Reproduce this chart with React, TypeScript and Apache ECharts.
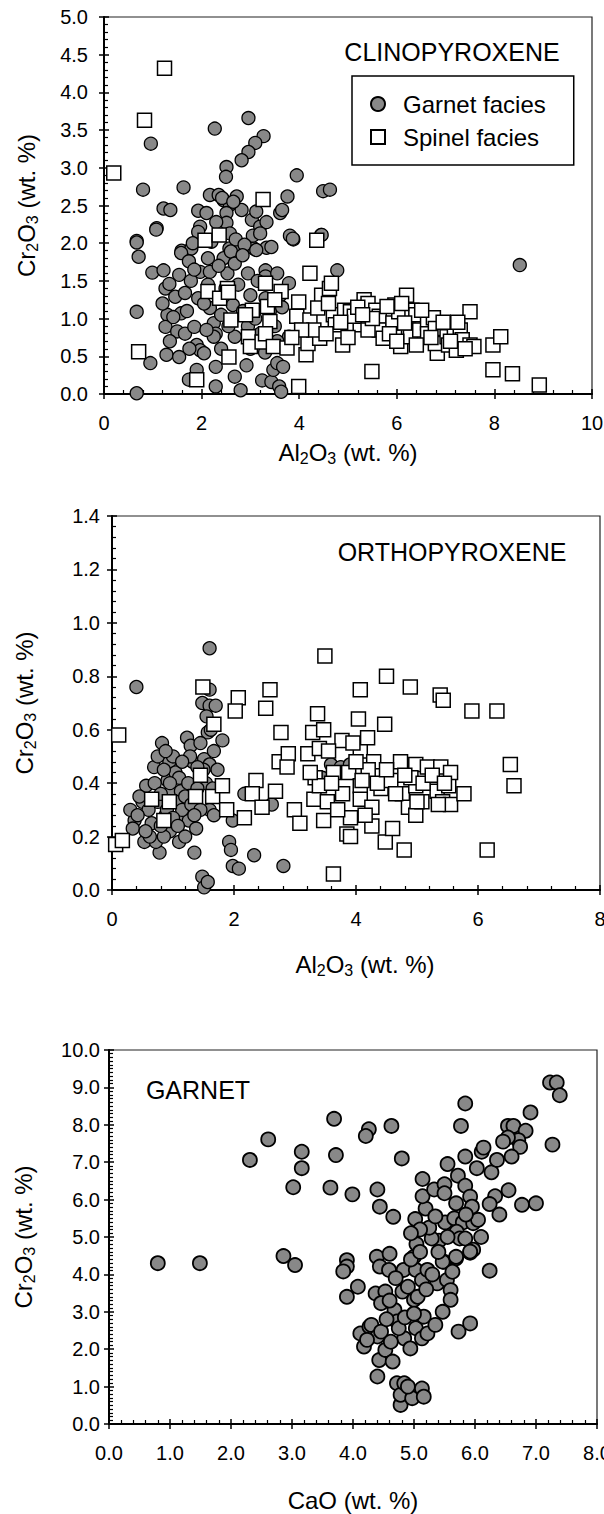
import React, { useEffect, useRef } from "react";
import * as echarts from "echarts";

// ---------- DATA ----------
// Clinopyroxene: [Al2O3, Cr2O3] wt.%
const cpxGarnet: number[][] = [
  [0.96, 3.32], [2.27, 3.52], [2.96, 3.66], [3.27, 3.42], [3.1, 3.33], [2.96, 3.21], [2.82, 3.1], [2.51, 3.01],
  [2.5, 2.88], [0.8, 2.71], [1.63, 2.74], [3.95, 2.9], [1.08, 2.2], [1.22, 2.46], [1.36, 2.44], [0.67, 2.03],
  [2.17, 2.64], [2.35, 2.64], [2.72, 2.62], [2.45, 2.57], [2.58, 2.51], [1.93, 2.43], [2.1, 2.4], [2.51, 2.4],
  [2.82, 2.44], [3.03, 2.31], [3.2, 2.22], [3.33, 2.28], [3.61, 2.4], [3.76, 2.62], [1.97, 2.22], [1.93, 2.15],
  [2.51, 2.27], [2.58, 2.13], [3.88, 2.05], [1.59, 1.9], [1.79, 1.93], [2.57, 1.93], [2.8, 1.94], [3.07, 1.93],
  [3.33, 1.94], [4.49, 2.69], [4.63, 2.71], [3.65, 2.44], [3.81, 2.1], [4.45, 2.11], [2.42, 2.6], [2.65, 2.55],
  [3.12, 2.42], [2.3, 2.28], [2.7, 2.05], [3.05, 2.1], [2.2, 2.02],
  [0.67, 2.01], [0.71, 1.82], [0.67, 1.09], [0.67, 0.01], [0.95, 0.41], [0.99, 1.61], [1.07, 2.18], [1.22, 1.64],
  [1.26, 1.4], [1.34, 1.46], [1.3, 1.05], [1.26, 0.89], [1.28, 0.52], [1.54, 0.49], [1.58, 1.87], [1.54, 1.58],
  [1.46, 1.29], [1.66, 1.34], [1.58, 1.07], [1.5, 0.83], [1.66, 0.8], [1.74, 1.76], [1.82, 2.0], [1.85, 0.89],
  [1.74, 0.19], [1.9, 0.32], [1.9, 0.65], [1.97, 0.58], [2.05, 0.54], [1.93, 1.27], [1.97, 1.62], [2.13, 1.8],
  [2.17, 1.62], [2.13, 1.45], [2.17, 1.14], [2.25, 0.94], [2.29, 0.8], [2.25, 0.76], [2.29, 0.36], [2.29, 0.1],
  [2.45, 1.8], [2.53, 1.6], [2.49, 1.4], [2.6, 1.89], [2.68, 1.73], [2.64, 1.18], [2.68, 0.76], [2.68, 0.23],
  [2.8, 0.05], [2.88, 1.98], [2.84, 1.84], [2.92, 0.38], [3.0, 1.31], [3.12, 1.91], [3.2, 2.13], [3.24, 0.18],
  [3.31, 1.64], [3.31, 1.56], [3.31, 1.27], [3.43, 1.95], [3.43, 0.16], [3.47, 0.32], [3.55, 0.41], [3.59, 0.1],
  [3.63, 0.03], [3.67, 0.36], [3.79, 1.47], [3.79, 0.76], [3.87, 2.06], [4.46, 2.11], [4.78, 1.64], [8.52, 1.71],
  [1.42, 1.02], [1.7, 1.1], [1.78, 1.5], [2.05, 1.2], [2.4, 1.05], [2.55, 0.9], [2.85, 1.1], [2.95, 0.9],
  [3.1, 1.0], [3.2, 0.8], [3.4, 1.1], [3.5, 0.9], [3.6, 1.3], [2.75, 1.45], [2.95, 1.6], [3.15, 1.5],
  [2.4, 0.6], [2.1, 0.85], [1.75, 0.6], [3.0, 0.6], [3.3, 0.55], [3.55, 0.7], [1.35, 0.7], [1.2, 1.2],
  [1.85, 1.65], [2.35, 1.7], [3.55, 1.6], [3.65, 1.15],
];

const cpxSpinel: number[][] = [
  [0.2, 2.93], [0.83, 3.63], [1.24, 4.32], [3.26, 2.58], [2.07, 2.04], [2.36, 2.11], [4.36, 2.04],
  [2.13, 1.36], [2.53, 1.4], [2.37, 1.27], [2.6, 0.98], [2.56, 0.49], [1.9, 0.19], [0.71, 0.56], [3.04, 1.11],
  [3.31, 1.47], [3.35, 1.16], [3.4, 0.96], [2.96, 0.76], [3.0, 0.63], [3.24, 0.69], [3.31, 0.8], [3.47, 0.63],
  [3.63, 1.36], [3.75, 0.61], [3.99, 0.1], [3.99, 1.22], [3.95, 1.03], [4.22, 1.6], [4.22, 0.98], [4.14, 0.52],
  [4.18, 0.67], [4.42, 0.74], [4.46, 1.31], [4.38, 1.14], [4.62, 1.4], [4.66, 1.47], [4.7, 1.05], [4.74, 0.92],
  [4.89, 0.65], [4.93, 1.11], [5.05, 1.09], [5.25, 0.92], [5.33, 1.25], [5.41, 1.2], [5.57, 1.11], [5.64, 1.03],
  [5.49, 0.3], [5.64, 0.85], [5.72, 0.74], [5.92, 0.94], [5.96, 1.18], [6.04, 1.09], [6.08, 0.63], [6.2, 1.31],
  [6.24, 0.85], [6.31, 1.11], [6.39, 1.05], [6.28, 0.76], [6.47, 0.85], [6.63, 0.94], [6.63, 0.8], [6.75, 1.01],
  [6.79, 0.87], [6.83, 0.54], [6.79, 0.67], [7.03, 0.76], [7.06, 0.65], [7.18, 0.83], [7.22, 0.58], [7.3, 0.85],
  [7.34, 0.72], [7.5, 0.65], [7.5, 1.09], [7.58, 0.63], [7.97, 0.65], [8.13, 0.76], [7.97, 0.32], [8.37, 0.27],
  [8.92, 0.12], [5.13, 1.03], [5.41, 0.85], [5.8, 1.16], [6.16, 0.94], [6.51, 1.11],
  [4.3, 0.85], [4.55, 0.8], [4.85, 0.95], [5.0, 0.75], [5.2, 1.15], [5.5, 1.0], [5.85, 0.8], [6.0, 0.7],
  [6.4, 0.65], [6.95, 0.95], [7.1, 0.7], [7.4, 0.6], [4.05, 0.85], [3.85, 0.75], [3.5, 1.25], [2.9, 1.05],
  [2.55, 1.35], [4.6, 1.2], [5.3, 1.05], [6.1, 1.2], [6.7, 0.75], [7.25, 0.95],
];

// Orthopyroxene: [Al2O3, Cr2O3] wt.%
const opxGarnet: number[][] = [
  [0.4, 0.76], [1.6, 0.905], [1.6, 0.75], [0.82, 0.55], [0.69, 0.46], [0.56, 0.39], [0.5, 0.33], [0.37, 0.26],
  [0.34, 0.23], [0.53, 0.18], [0.78, 0.14], [0.72, 0.18], [0.91, 0.41], [0.94, 0.48], [1.04, 0.44], [0.97, 0.37],
  [0.75, 0.33], [0.88, 0.28], [1.1, 0.18], [1.13, 0.37], [1.19, 0.28], [1.26, 0.26], [1.23, 0.57], [1.29, 0.54],
  [1.38, 0.23], [1.32, 0.48], [1.35, 0.14], [1.48, 0.05], [1.51, 0.01], [1.57, 0.03], [1.51, 0.49], [1.6, 0.47],
  [1.48, 0.7], [1.6, 0.69], [1.7, 0.69], [1.57, 0.59], [1.67, 0.52], [1.73, 0.45], [1.81, 0.56], [1.54, 0.4],
  [1.6, 0.3], [1.67, 0.28], [1.92, 0.18], [1.95, 0.15], [1.98, 0.09], [2.08, 0.08], [1.98, 0.26], [2.33, 0.13],
  [2.62, 0.32], [2.81, 0.09], [2.17, 0.36], [3.59, 0.47],
  [0.3, 0.3], [0.45, 0.35], [0.6, 0.3], [0.65, 0.25], [0.7, 0.4], [0.8, 0.36], [0.85, 0.45], [0.9, 0.3],
  [0.95, 0.22], [1.0, 0.5], [1.05, 0.33], [1.1, 0.42], [1.15, 0.3], [1.2, 0.35], [1.25, 0.4], [1.3, 0.32],
  [1.4, 0.38], [1.45, 0.3], [1.5, 0.45], [1.55, 0.65], [1.62, 0.6], [1.45, 0.55], [0.85, 0.2], [1.0, 0.27],
  [1.08, 0.24], [0.62, 0.2], [0.75, 0.5], [1.35, 0.28], [1.2, 0.2], [0.95, 0.4], [0.88, 0.52], [1.65, 0.38],
  [1.4, 0.46], [1.28, 0.5], [0.42, 0.28], [0.55, 0.22], [0.8, 0.24], [1.15, 0.48], [3.45, 0.42], [3.75, 0.46],
  [3.9, 0.47],
];

const opxSpinel: number[][] = [
  [1.49, 0.76], [2.07, 0.72], [2.59, 0.75], [3.49, 0.876], [4.07, 0.75], [4.5, 0.8], [4.89, 0.76], [5.38, 0.73],
  [5.43, 0.71], [0.11, 0.58], [0.06, 0.17], [0.17, 0.185], [0.65, 0.34], [0.94, 0.33], [0.85, 0.26], [1.37, 0.35],
  [1.45, 0.43], [1.65, 0.35], [1.67, 0.62], [1.81, 0.39], [1.88, 0.3], [2.17, 0.27], [2.02, 0.67], [2.52, 0.68],
  [2.36, 0.41], [2.3, 0.36], [2.68, 0.37], [2.46, 0.31], [2.77, 0.59], [2.74, 0.48], [2.89, 0.51], [2.87, 0.46],
  [2.99, 0.3], [3.08, 0.25], [3.21, 0.51], [3.29, 0.59], [3.37, 0.66], [3.47, 0.6], [3.4, 0.53], [3.33, 0.42],
  [3.31, 0.34], [3.4, 0.39], [3.53, 0.33], [3.47, 0.26], [3.63, 0.06], [3.63, 0.44], [3.77, 0.56], [3.78, 0.36],
  [3.88, 0.44], [3.91, 0.27], [3.85, 0.21], [3.91, 0.2], [4.04, 0.64], [4.07, 0.52], [4.07, 0.39], [4.07, 0.34],
  [4.19, 0.57], [4.29, 0.48], [4.26, 0.31], [4.26, 0.24], [4.47, 0.62], [4.41, 0.38], [4.48, 0.18], [4.6, 0.23],
  [4.57, 0.41], [4.73, 0.48], [4.76, 0.36], [4.79, 0.15], [4.86, 0.31], [4.98, 0.47], [4.98, 0.39], [4.98, 0.28],
  [5.08, 0.33], [5.17, 0.46], [5.33, 0.37], [5.39, 0.46], [5.42, 0.33], [5.52, 0.39], [5.55, 0.44], [5.55, 0.32],
  [5.77, 0.36], [5.9, 0.67], [6.31, 0.67], [6.15, 0.15], [6.53, 0.47], [6.59, 0.39],
  [3.6, 0.4], [3.7, 0.3], [4.2, 0.45], [4.35, 0.4], [4.65, 0.36], [4.9, 0.42], [5.1, 0.4], [5.25, 0.43],
  [5.45, 0.4], [3.95, 0.55], [4.0, 0.48], [3.25, 0.44], [4.15, 0.28], [4.5, 0.45], [5.0, 0.33], [4.8, 0.43],
  [3.55, 0.52], [4.1, 0.41], [5.35, 0.32],
];

// Garnet: [CaO, Cr2O3] wt.%
const garnetCaCr: number[][] = [
  [0.8, 4.3], [1.49, 4.3], [2.31, 7.06], [2.61, 7.61], [3.16, 7.28], [3.16, 6.84], [3.02, 6.33], [2.86, 4.49],
  [3.05, 4.25], [7.23, 9.13], [7.34, 9.13], [7.39, 8.79], [5.84, 8.57], [5.77, 7.97], [6.91, 8.33], [6.54, 7.97],
  [6.63, 7.97], [6.83, 7.84], [6.71, 7.59], [6.74, 7.41], [6.54, 7.66], [6.46, 7.55], [6.6, 7.15], [7.27, 7.47],
  [3.69, 8.16], [4.26, 7.88], [4.21, 7.7], [4.63, 7.97], [3.72, 7.19], [4.8, 7.1], [3.63, 6.32], [3.99, 6.14],
  [4.4, 6.27], [4.44, 5.81], [4.66, 5.54], [5.02, 5.48], [5.19, 5.76], [5.14, 6.09], [5.14, 6.55], [5.33, 6.27],
  [5.5, 6.41], [5.5, 6.17], [5.55, 6.95], [5.72, 6.64], [5.84, 7.15], [5.84, 6.37], [5.92, 6.08], [5.69, 5.9],
  [5.95, 5.81], [6.03, 6.84], [6.11, 7.28], [6.14, 7.39], [6.27, 6.73], [6.36, 7.06], [6.33, 6.09], [6.24, 5.88],
  [6.77, 5.86], [7.0, 5.9], [5.51, 5.39], [5.66, 5.5], [5.8, 5.39], [5.97, 5.37], [6.05, 5.46], [5.7, 5.14],
  [5.75, 4.96], [5.84, 4.96], [5.41, 4.9], [5.29, 4.96], [5.04, 4.81], [5.97, 4.66], [5.92, 4.58], [5.69, 4.43],
  [5.49, 4.34], [6.24, 4.1], [4.39, 4.47], [4.44, 4.21], [3.9, 4.38], [3.9, 4.21], [3.84, 4.08], [4.83, 4.12],
  [3.9, 3.4], [4.08, 3.67], [4.12, 2.42], [4.18, 2.07], [4.27, 2.6], [4.3, 2.65], [4.37, 3.49], [4.4, 2.34],
  [4.46, 2.47], [4.4, 1.27], [4.43, 1.71], [4.53, 3.54], [4.46, 3.23], [4.53, 1.98], [4.59, 4.12], [4.65, 1.67],
  [4.68, 3.05], [4.72, 1.09], [4.78, 0.51], [4.78, 0.78], [4.81, 3.54], [4.84, 1.09], [4.84, 2.29], [4.72, 2.74],
  [4.75, 2.56], [4.9, 3.67], [4.94, 2.02], [4.97, 0.69], [4.9, 1.0], [5.0, 4.47], [5.03, 4.12], [5.0, 3.32],
  [5.03, 2.56], [5.06, 3.4], [5.13, 3.85], [5.13, 2.29], [5.13, 0.95], [5.16, 2.87], [5.16, 0.73], [5.22, 2.42],
  [5.22, 4.12], [5.35, 2.65], [5.38, 3.76], [5.47, 4.34], [5.47, 3.0], [5.54, 3.85], [5.6, 3.58], [5.6, 3.32],
  [5.63, 4.07], [5.69, 4.47], [5.73, 2.47], [5.92, 2.69], [5.92, 4.61], [4.23, 2.25], [4.55, 2.8], [4.6, 3.3],
  [4.7, 3.9], [4.95, 4.4], [5.1, 4.6], [5.2, 3.6], [5.3, 4.0], [5.4, 4.6], [4.62, 2.2], [4.85, 2.85],
  [5.0, 2.95], [4.6, 4.55], [5.25, 5.25], [5.35, 5.55], [5.55, 5.0], [6.1, 5.0], [5.1, 5.2], [4.95, 5.1],
  [5.85, 5.6], [6.4, 5.6], [6.55, 6.25],
];

const panelLabels = ["CLINOPYROXENE", "ORTHOPYROXENE", "GARNET"];
const legendNames = ["Garnet facies", "Spinel facies"];
const crName = "{n|Cr}{s|2}{n|O}{s|3}{n| (wt. %)}";
const alName = "{n|Al}{s|2}{n|O}{s|3}{n| (wt. %)}";
const caName = "{n|CaO (wt. %)}";

// ---------- STYLE ----------
const FONT = '"Liberation Sans", Arial, Helvetica, sans-serif';
const GRAY = "#888888";

const rich = {
  n: { fontSize: 24, fontFamily: FONT, color: "#000" },
  s: { fontSize: 16, fontFamily: FONT, color: "#000", padding: [12, 0, 0, 0] },
};

type AxisCfg = {
  grid: number;
  min: number;
  max: number;
  interval: number;
  minorSplit: number;
  margin: number;
  decimals: number;
  name: string;
  nameGap: number;
  namePad?: number[];
};

function mainAxis(c: AxisCfg) {
  return {
    type: "value",
    gridIndex: c.grid,
    min: c.min,
    max: c.max,
    interval: c.interval,
    name: c.name,
    nameLocation: "middle",
    nameGap: c.nameGap,
    nameTextStyle: { fontFamily: FONT, fontSize: 24, color: "#000", rich, padding: c.namePad || 0 },
    axisLine: { show: true, onZero: false, lineStyle: { color: "#000", width: 2 } },
    axisTick: { show: true, inside: false, length: 5, lineStyle: { color: "#000", width: 1.5 } },
    minorTick: { show: false },
    splitLine: { show: false },
    axisLabel: {
      margin: c.margin,
      fontFamily: FONT,
      fontSize: 20,
      color: "#000",
      formatter: (v: number) => v.toFixed(c.decimals),
    },
  };
}

function innerAxis(c: AxisCfg) {
  return {
    type: "value",
    gridIndex: c.grid,
    min: c.min,
    max: c.max,
    interval: c.interval,
    axisLine: { show: false, onZero: false },
    axisTick: { show: true, inside: true, length: 5, lineStyle: { color: "#000", width: 1.5 } },
    minorTick: { show: true, splitNumber: c.minorSplit, length: 4, lineStyle: { color: "#000", width: 1.2 } },
    splitLine: { show: false },
    minorSplitLine: { show: false },
    axisLabel: { show: false },
  };
}

const xCfgs: AxisCfg[] = [
  { grid: 0, min: 0, max: 10, interval: 2, minorSplit: 5, margin: 19, decimals: 0, name: alName, nameGap: 44 },
  { grid: 1, min: 0, max: 8, interval: 2, minorSplit: 5, margin: 19, decimals: 0, name: alName, nameGap: 60, namePad: [0, 0, 0, 18] },
  { grid: 2, min: 0, max: 8, interval: 1, minorSplit: 5, margin: 19, decimals: 1, name: caName, nameGap: 64 },
];
const yCfgs: AxisCfg[] = [
  { grid: 0, min: 0, max: 5, interval: 0.5, minorSplit: 5, margin: 16, decimals: 1, name: crName, nameGap: 64 },
  { grid: 1, min: 0, max: 1.4, interval: 0.2, minorSplit: 5, margin: 12, decimals: 1, name: crName, nameGap: 74 },
  { grid: 2, min: 0, max: 10, interval: 1, minorSplit: 10, margin: 9, decimals: 1, name: crName, nameGap: 72 },
];

function circleSeries(name: string, data: number[][], axis: number, size: number, bw: number) {
  return {
    type: "scatter",
    name,
    xAxisIndex: axis,
    yAxisIndex: axis,
    data,
    symbol: "circle",
    symbolSize: size,
    itemStyle: { color: GRAY, borderColor: "#000", borderWidth: bw, opacity: 1 },
    emphasis: { disabled: true },
  };
}

function squareSeries(name: string, data: number[][], axis: number) {
  return {
    type: "scatter",
    name,
    xAxisIndex: axis,
    yAxisIndex: axis,
    data,
    symbol: "rect",
    symbolSize: 14,
    itemStyle: { color: "#fff", borderColor: "#000", borderWidth: 1.5, opacity: 1 },
    emphasis: { disabled: true },
  };
}

export default function App() {
  const ref = useRef<HTMLDivElement>(null);

  useEffect(() => {
    if (!ref.current) return;
    const chart = echarts.init(ref.current, null, { renderer: "svg" });

    const grids = [
      { left: 104, top: 17, width: 488, height: 377 },
      { left: 112, top: 516, width: 488, height: 374 },
      { left: 109, top: 1050, width: 488, height: 374 },
    ].map((g) => ({
      ...g,
      show: true,
      borderColor: "#222",
      borderWidth: 1.2,
      backgroundColor: "transparent",
      containLabel: false,
      outerBoundsMode: "none",
    }));

    const xAxis: any[] = [];
    const yAxis: any[] = [];
    xCfgs.forEach((c) => {
      xAxis.push({ ...mainAxis(c), position: "bottom" });
      xAxis.push({ ...innerAxis(c), position: "bottom" });
    });
    yCfgs.forEach((c) => {
      yAxis.push({ ...mainAxis(c), position: "left" });
      yAxis.push({ ...innerAxis(c), position: "left" });
    });

    const option: any = {
      animation: false,
      backgroundColor: "#fff",
      grid: grids,
      xAxis,
      yAxis,
      legend: {
        data: legendNames,
        orient: "vertical",
        left: 352,
        top: 76,
        padding: [16, 28, 16, 18],
        itemGap: 9,
        itemWidth: 14,
        itemHeight: 14,
        borderColor: "#000",
        borderWidth: 1.5,
        selectedMode: false,
        textStyle: { fontFamily: FONT, fontSize: 24, color: "#000", padding: [0, 0, 0, 13] },
      },
      graphic: [
        {
          type: "text",
          x: 452,
          y: 52,
          style: { text: panelLabels[0], fontFamily: FONT, fontSize: 25, fill: "#000", align: "center", verticalAlign: "middle" },
        },
        {
          type: "text",
          x: 452,
          y: 552,
          style: { text: panelLabels[1], fontFamily: FONT, fontSize: 25, fill: "#000", align: "center", verticalAlign: "middle" },
        },
        {
          type: "text",
          x: 198,
          y: 1090,
          style: { text: panelLabels[2], fontFamily: FONT, fontSize: 25, fill: "#000", align: "center", verticalAlign: "middle" },
        },
      ],
      series: [
        circleSeries(legendNames[0], cpxGarnet, 0, 13, 1.3),
        squareSeries(legendNames[1], cpxSpinel, 0),
        circleSeries("Opx garnet facies", opxGarnet, 2, 13, 1.3),
        squareSeries("Opx spinel facies", opxSpinel, 2),
        circleSeries("Garnet", garnetCaCr, 4, 14, 1.8),
      ],
    };

    chart.setOption(option);
    return () => chart.dispose();
  }, []);

  return (
    <div
      ref={ref}
      style={{ position: "absolute", left: 0, top: 0, width: 604, height: 1514, background: "#fff" }}
    />
  );
}
